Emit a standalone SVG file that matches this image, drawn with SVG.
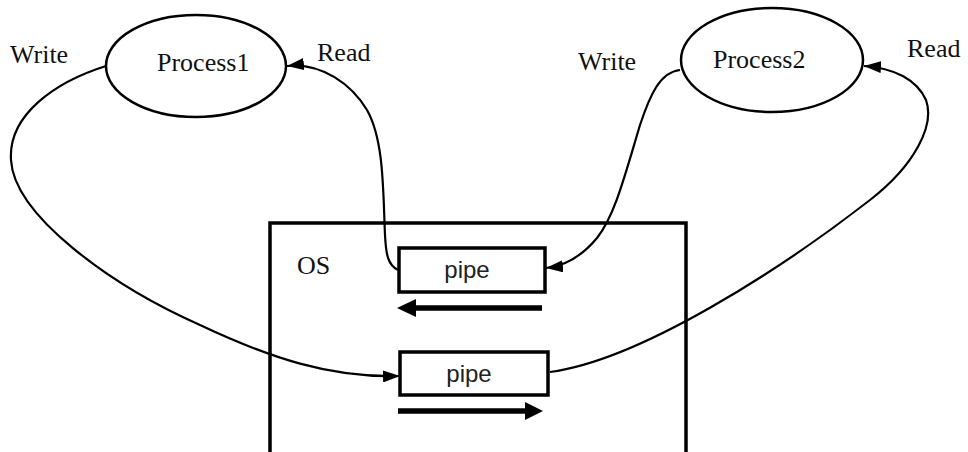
<svg xmlns="http://www.w3.org/2000/svg" width="968" height="452" viewBox="0 0 968 452">
  <style>
    .serif { font-family: "Liberation Serif", "Times New Roman", serif; font-size: 26px; fill: #111; }
    .sans { font-family: "Liberation Sans", Arial, sans-serif; font-size: 24px; fill: #222; }
    .proc { fill: #fff; stroke: #000; stroke-width: 2.5; }
    .box { fill: #fff; stroke: #000; stroke-width: 3.5; }
    .os { fill: none; stroke: #000; stroke-width: 3.5; }
    .conn { fill: none; stroke: #000; stroke-width: 2.2; marker-end: url(#head); }
    .flow { stroke: #000; stroke-width: 5.5; }
  </style>
  <defs>
    <marker id="head" markerUnits="userSpaceOnUse" markerWidth="18" markerHeight="12" refX="17" refY="6" orient="auto">
      <path d="M0,0 L17,6 L0,12 z" fill="#000"/>
    </marker>
  </defs>

  <rect width="968" height="452" fill="#fff"/>

  <!-- operating system frame -->
  <g id="os">
    <rect class="os" x="270" y="223" width="416" height="240"/>
    <text class="serif" x="297" y="274">OS</text>
  </g>

  <g id="process1">
    <ellipse class="proc" cx="196" cy="66" rx="90" ry="51"/>
    <text class="serif" x="157" y="71">Process1</text>
  </g>

  <g id="process2">
    <ellipse class="proc" cx="772" cy="60" rx="91" ry="52"/>
    <text class="serif" x="713" y="68">Process2</text>
  </g>

  <g id="pipe1">
    <rect class="box" x="399" y="248" width="146" height="44"/>
    <text class="sans" x="467" y="278" text-anchor="middle">pipe</text>
    <line class="flow" x1="542" y1="308" x2="412" y2="308"/>
    <polygon points="397,308 416,299 416,317" fill="#000"/>
  </g>

  <g id="pipe2">
    <rect class="box" x="400" y="352" width="148" height="43"/>
    <text class="sans" x="469" y="382" text-anchor="middle">pipe</text>
    <line class="flow" x1="398" y1="411" x2="528" y2="411"/>
    <polygon points="543,411 525,402 525,420" fill="#000"/>
  </g>

  <!-- read / write connectors -->
  <g id="connectors">
    <path class="conn" d="M106,66 C55,82 8,115 11,160 C14,215 110,285 200,325 C270,358 330,378 400,376"/>
    <path class="conn" d="M398,270 C388,265 386,255 385,235 C383,190 384,140 367,110 C352,85 322,62 287,66"/>
    <path class="conn" d="M680,70 C660,72 650,95 640,125 C625,175 615,215 597,238 C582,256 566,266 546,268"/>
    <path class="conn" d="M550,372 C640,360 780,270 870,200 C915,165 935,125 926,100 C917,80 895,68 864,66"/>
  </g>

  <!-- labels -->
  <g id="labels">
    <text class="serif" x="10" y="63">Write</text>
    <text class="serif" x="317" y="61">Read</text>
    <text class="serif" x="578" y="70">Write</text>
    <text class="serif" x="907" y="57">Read</text>
  </g>
</svg>
